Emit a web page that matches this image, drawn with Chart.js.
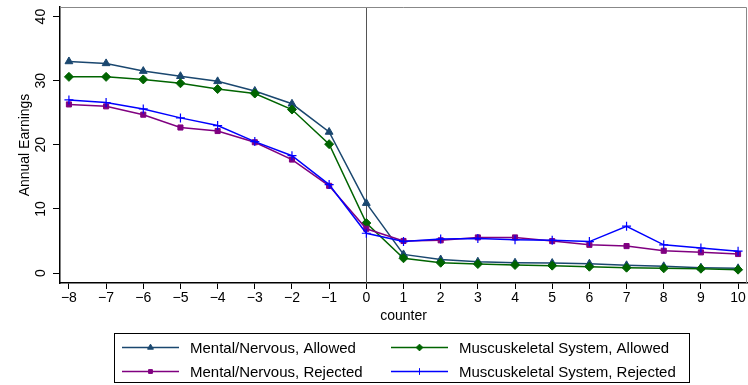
<!DOCTYPE html>
<html>
<head>
<meta charset="utf-8">
<script src="https://cdn.jsdelivr.net/npm/chart.js@4/dist/chart.umd.min.js"></script>
<style>
html,body{margin:0;padding:0;background:#fff;}
canvas{display:block;}
</style>
</head>
<body>
<canvas id="c" width="748" height="385"></canvas>
<script>
const counter = [-8,-7,-6,-5,-4,-3,-2,-1,0,1,2,3,4,5,6,7,8,9,10];
const yTickValues = [0,10,20,30,40];
const mentalAllowed = [33.0,32.7,31.5,30.7,29.9,28.4,26.4,22.0,10.9,2.9,2.1,1.76,1.6,1.55,1.45,1.2,1.04,0.83,0.73];
const muscAllowed   = [30.6,30.6,30.2,29.6,28.7,28.0,25.5,20.1,7.8,2.3,1.6,1.4,1.25,1.15,0.98,0.83,0.73,0.67,0.52];
const mentalRejected= [26.3,26.0,24.7,22.7,22.15,20.4,17.7,13.6,6.9,5.0,5.1,5.55,5.55,4.98,4.4,4.2,3.47,3.22,2.96];
const muscRejected  = [27.0,26.6,25.6,24.2,23.0,20.5,18.3,13.8,6.2,4.9,5.3,5.4,5.2,5.1,4.9,7.3,4.4,3.9,3.4];
const seriesNames = ["Mental/Nervous, Allowed","Muscuskeletal System, Allowed","Mental/Nervous, Rejected","Muscuskeletal System, Rejected"];
const seriesColors = ['#1a476f','#006400','#800080','#0000ff'];
const seriesStyles = ['triangle','rectRot','rect','cross'];
const seriesRadius = [4.5,4.5,3.6,4.5];

const FONT = "'Liberation Sans', Arial, Helvetica, sans-serif";
const pts = arr => arr.map((v,i)=>({x:counter[i], y:v}));

function ds(i, data, order){
  const color = seriesColors[i], style = seriesStyles[i], radius = seriesRadius[i];
  return {label: seriesNames[i], data: pts(data), borderColor: color, backgroundColor: color,
    pointBackgroundColor: color, pointBorderColor: color,
    pointStyle: style, pointRadius: radius, pointHoverRadius: radius,
    pointBorderWidth: style==='cross'?1.2:1, borderWidth: 1.5, tension: 0, order};
}

const framePlugin = {
  id: 'frame',
  beforeDatasetsDraw(chart){
    const {ctx, chartArea:a, scales:{x}} = chart;
    ctx.save();
    const x0 = Math.round(x.getPixelForValue(0)) + 0.5;
    ctx.strokeStyle = '#555';
    ctx.lineWidth = 1;
    ctx.beginPath(); ctx.moveTo(x0, a.top); ctx.lineTo(x0, a.bottom); ctx.stroke();
    ctx.strokeStyle = '#888';
    ctx.beginPath();
    ctx.moveTo(a.left, a.top+0.5); ctx.lineTo(a.right-0.5, a.top+0.5); ctx.lineTo(a.right-0.5, a.bottom);
    ctx.stroke();
    ctx.restore();
  },
  afterDraw(chart){
    const {ctx, scales:{y}} = chart;
    ctx.save();
    ctx.font = '14px ' + FONT;
    ctx.fillStyle = '#000';
    ctx.textAlign = 'center';
    ctx.textBaseline = 'middle';
    y.ticks.forEach(t => {
      const py = y.getPixelForValue(t.value);
      ctx.save(); ctx.translate(41, py); ctx.rotate(-Math.PI/2);
      ctx.fillText(String(t.value), 0, 0);
      ctx.restore();
    });
    ctx.restore();
    // legend
    ctx.save();
    const bx = 114.5, by = 333.5, bw = 575, bh = 49;
    ctx.strokeStyle = '#000'; ctx.lineWidth = 1;
    ctx.strokeRect(bx, by, bw, bh);
    const cols = [122, 391];
    const rows = [347, 371];
    for (let k = 0; k < 4; k++) {
      const color = seriesColors[k];
      const cx = cols[k%2], cy = rows[Math.floor(k/2)];
      ctx.beginPath();
      ctx.strokeStyle = color; ctx.lineWidth = 1.5;
      ctx.moveTo(cx, cy+0.5); ctx.lineTo(cx+57, cy+0.5);
      ctx.stroke();
      ctx.beginPath();
      ctx.fillStyle = color; ctx.strokeStyle = color; ctx.lineWidth = 1;
      Chart.helpers.drawPoint(ctx, {pointStyle: seriesStyles[k], radius: seriesRadius[k]*0.75, borderWidth: 1, rotation: 0}, cx+28.5, cy+0.5);
    }
    ctx.font = '15px ' + FONT;
    ctx.textAlign = 'left';
    ctx.textBaseline = 'middle';
    ctx.fillStyle = '#000';
    for (let k = 0; k < 4; k++) {
      const cx = cols[k%2], cy = rows[Math.floor(k/2)];
      ctx.fillText(seriesNames[k], cx+68, cy+2);
    }
    ctx.restore();
  }
};

new Chart(document.getElementById('c'), {
  type: 'line',
  data: {
    datasets: [
      ds(0, mentalAllowed, 4),
      ds(1, muscAllowed, 3),
      ds(2, mentalRejected, 2),
      ds(3, muscRejected, 1)
    ]
  },
  options: {
    responsive: false,
    devicePixelRatio: 1,
    animation: false,
    events: [],
    layout: {autoPadding: false, padding: {top: 7, right: 1, bottom: 52, left: 0}},
    plugins: {legend: {display: false}, tooltip: {enabled: false}},
    scales: {
      x: {
        type: 'linear', min: -8.24, max: 10.24,
        afterBuildTicks: s => { s.ticks = counter.map(v => ({value: v})); },
        afterFit: s => { s.height = 50; },
        grid: {drawOnChartArea: false, drawTicks: true, tickLength: 6, color: '#000', tickColor: '#000'},
        border: {color: '#000', width: 1.5},
        ticks: {font: {family: FONT, size: 14}, color: '#000', padding: 1, autoSkip: false, maxRotation: 0,
          callback: v => v < 0 ? '\u2212' + Math.abs(v) : String(v)},
        title: {display: true, text: 'counter', font: {family: FONT, size: 14}, color: '#000', padding: {top: 0, bottom: 8}}
      },
      y: {
        type: 'linear', min: -1.56, max: 41.5,
        afterBuildTicks: s => { s.ticks = yTickValues.map(v => ({value: v})); },
        afterFit: s => { s.width = 60; },
        grid: {drawOnChartArea: false, drawTicks: true, tickLength: 7, color: '#000', tickColor: '#000'},
        border: {color: '#000', width: 1.5},
        ticks: {display: false},
        title: {display: true, text: 'Annual Earnings', font: {family: FONT, size: 14}, color: '#000', padding: {top: 17, bottom: 0}}
      }
    }
  },
  plugins: [framePlugin]
});
</script>
</body>
</html>
